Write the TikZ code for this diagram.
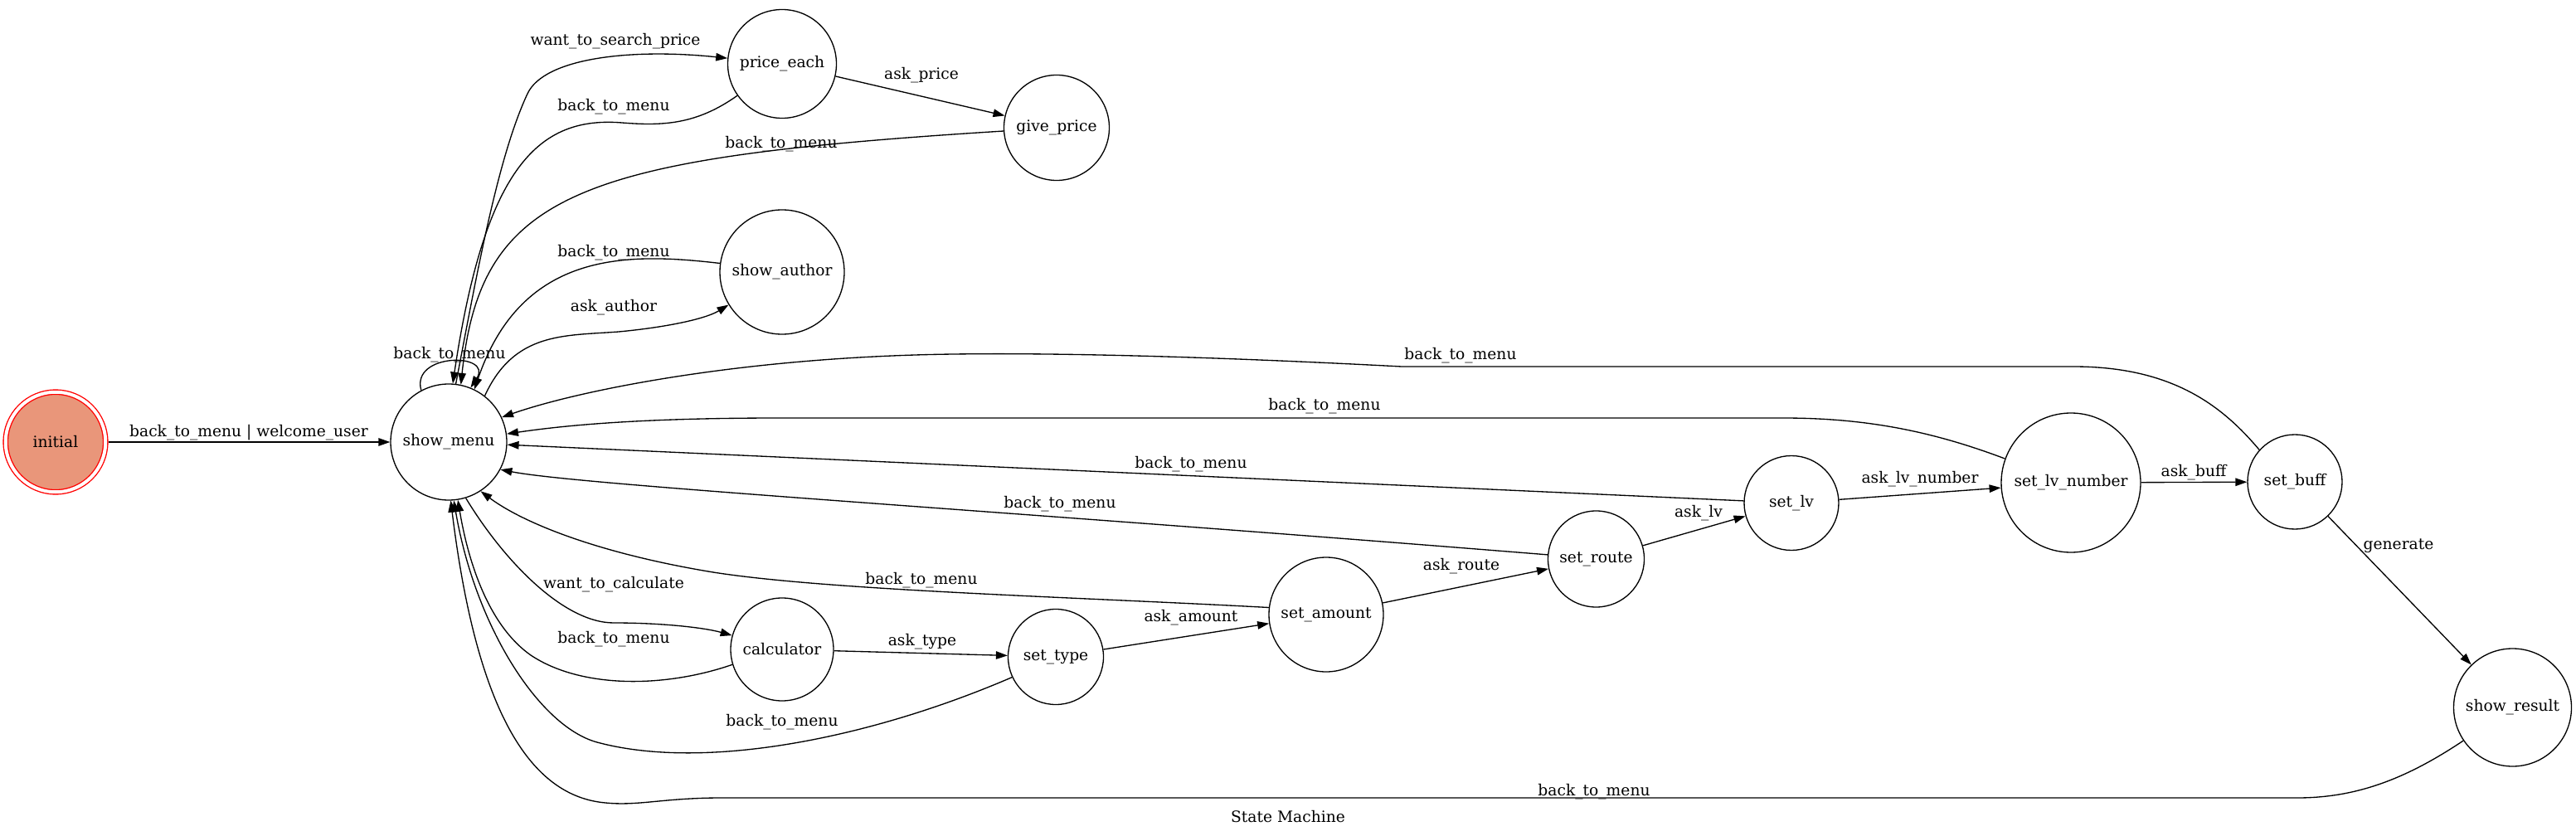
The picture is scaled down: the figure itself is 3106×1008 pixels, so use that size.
\documentclass[tikz,border=0pt]{standalone}
\usepackage{fontspec}
\setmainfont{DejaVu Serif}
\usetikzlibrary{arrows.meta}
\definecolor{salmonfill}{RGB}{233,150,122}
\newcommand\glabelfont{\fontsize{18.67pt}{22pt}\selectfont}
\begin{document}
\begin{tikzpicture}[x=1pt,y=-1pt,
  stnode/.style={circle, draw=black, line width=1.33pt, inner sep=0pt, font=\glabelfont},
  initst/.style={circle, draw=red, fill=salmonfill, line width=1.33pt, double=white, double distance=4pt, inner sep=0pt, outer sep=3.3pt, minimum size=120.5pt, font=\glabelfont},
  conn/.style={draw=black, line width=1.33pt, -{Triangle[length=14pt,width=9.5pt]}},
  plainconn/.style={draw=black, line width=1.33pt},
  elabel/.style={font=\glabelfont, inner sep=0pt}]
\useasboundingbox (0,0) rectangle (3106,1008);

% states
\node[initst] (init) at (67,533) {initial};
\node[stnode, minimum size=140pt] (sm) at (541,533) {show\_menu};
\node[stnode, minimum size=131pt] (pe) at (943,77) {price\_each};
\node[stnode, minimum size=127pt] (gp) at (1274,154) {give\_price};
\node[stnode, minimum size=150pt] (sa) at (943,328) {show\_author};
\node[stnode, minimum size=124pt] (calc) at (943,783) {calculator};
\node[stnode, minimum size=115pt] (sty) at (1273,792) {set\_type};
\node[stnode, minimum size=138pt] (sam) at (1599,741) {set\_amount};
\node[stnode, minimum size=116pt] (sro) at (1924.5,674) {set\_route};
\node[stnode, minimum size=114pt] (slv) at (2160,606.5) {set\_lv};
\node[stnode, minimum size=168pt] (sln) at (2497,582) {set\_lv\_number};
\node[stnode, minimum size=114pt] (sbf) at (2767,581) {set\_buff};
\node[stnode, minimum size=142pt] (res) at (3029.5,853) {show\_result};

% transitions
\draw[conn] (init) -- (sm);
\draw[conn] (sm.118) .. controls (495,425) and (595,425) .. (sm.68);
\draw[conn] (sm.83) .. controls (575,330) and (600,190) .. (636,113)
  .. controls (656,70) and (760,58) .. (pe);
\draw[conn] (pe) .. controls (840,150) and (800,152) .. (750,148)
  .. controls (650,140) and (585,200) .. (sm.86);
\draw[conn] (gp) .. controls (700,190) and (580,230) .. (sm.78);
\draw[conn] (sa.172) .. controls (760,305) and (630,300) .. (sm.64);
\draw[conn] (sm.52) .. controls (620,400) and (680,405) .. (746,400)
  .. controls (800,395) and (850,385) .. (sa);
\draw[conn] (pe) -- (gp);
\draw[conn] (sm.-73) .. controls (608,677) and (680,751) .. (740,751)
  .. controls (800,751) and (850,757) .. (calc);
\draw[conn] (calc.197) .. controls (800,830) and (700,830) .. (640,790)
  .. controls (590,755) and (565,680) .. (sm.-81);
\draw[conn] (sty.205) .. controls (1050,890) and (850,930) .. (720,895)
  .. controls (650,876) and (573,755) .. (sm.-85);
\draw[conn] (res.214) .. controls (2900,940) and (2840,962) .. (2770,962)
  -- (870,962) .. controls (800,962) and (770,972) .. (730,968)
  .. controls (640,960) and (575,860) .. (sm.-88);
\draw[conn] (calc) -- (sty);
\draw[conn] (sty) -- (sam);
\draw[conn] (sam.173) .. controls (1300,720) and (1000,712) .. (860,690)
  .. controls (720,667) and (630,630) .. (sm.-57);
\draw[conn] (sam) -- (sro);
\draw[conn] (sro.175) .. controls (1200,615) and (700,585) .. (sm.-28);
\draw[conn] (sro) -- (slv);
\draw[conn] (slv) -- (sm);
\draw[conn] (slv) -- (sln);
\draw[conn] (sln.160) .. controls (2330,520) and (2250,504) .. (2150,504)
  -- (940,504) .. controls (800,504) and (700,510) .. (sm.8);
\draw[conn] (sln) -- (sbf);
\draw[conn] (sbf.138) .. controls (2680,490) and (2620,442) .. (2500,442)
  -- (1690,442) .. controls (1500,432) and (1300,425) .. (1150,427)
  .. controls (900,430) and (700,470) .. (sm.25);
\draw[conn] (sbf) -- (res);

% labels
\node[elabel] (l1) at (300,522) {back\_to\_menu | welcome\_user};
\node[elabel] (l2) at (542,428) {back\_to\_menu};
\node[elabel] (l3) at (742,50) {want\_to\_search\_price};
\node[elabel] (l4) at (740,129) {back\_to\_menu};
\node[elabel] (l5) at (942,174) {back\_to\_menu};
\node[elabel] (l6) at (740,305) {back\_to\_menu};
\node[elabel] (l7) at (740,371) {ask\_author};
\node[elabel] (l8) at (1111,91) {ask\_price};
\node[elabel] (l9) at (740,705) {want\_to\_calculate};
\node[elabel] (l10) at (740,771) {back\_to\_menu};
\node[elabel] (l11) at (943,871) {back\_to\_menu};
\node[elabel] (l12) at (1112,774) {ask\_type};
\node[elabel] (l13) at (1436,745) {ask\_amount};
\node[elabel] (l14) at (1111,700) {back\_to\_menu};
\node[elabel] (l15) at (1762,683) {ask\_route};
\node[elabel] (l16) at (1278,608) {back\_to\_menu};
\node[elabel] (l17) at (2048,619) {ask\_lv};
\node[elabel] (l18) at (1436,560) {back\_to\_menu};
\node[elabel] (l19) at (2315,578) {ask\_lv\_number};
\node[elabel] (l20) at (1597,490) {back\_to\_menu};
\node[elabel] (l21) at (2645,570) {ask\_buff};
\node[elabel] (l22) at (1761,429) {back\_to\_menu};
\node[elabel] (l23) at (2892,658) {generate};
\node[elabel] (l24) at (1922,955) {back\_to\_menu};
\node[elabel] (title) at (1553,985) {State Machine};
\end{tikzpicture}
\end{document}
